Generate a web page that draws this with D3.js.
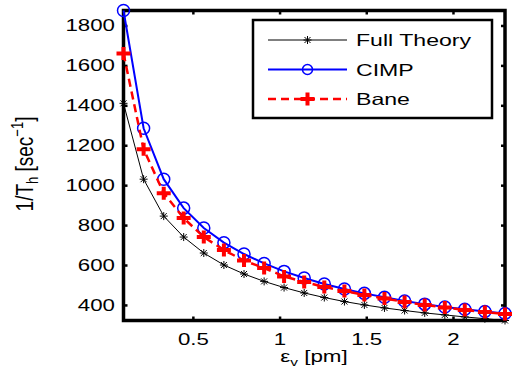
<!DOCTYPE html>
<html>
<head>
<meta charset="utf-8">
<script src="https://cdn.jsdelivr.net/npm/d3@7"></script>
<style>
    body { margin: 0; background: #fff; }
    text { font-family: "Liberation Sans", Arial, sans-serif; fill: #000; }
</style>
</head>
<body>
<div id="chart"></div>
<script>
// emittance values along x (pm)
var epsV = [0.100, 0.216, 0.332, 0.447, 0.563, 0.679, 0.795, 0.911, 1.026, 1.142,
            1.258, 1.374, 1.489, 1.605, 1.721, 1.837, 1.953, 2.068, 2.184, 2.300];

var fullTheory = [1410, 1030, 845, 740, 660, 600, 555, 518, 487, 460,
                  437, 417, 400, 385, 372, 360, 350, 340, 331, 322];
var cimp = [1875, 1285, 1030, 885, 785, 712, 655, 608, 568, 535,
            505, 480, 458, 438, 420, 404, 390, 378, 367, 357];
var bane = [1660, 1180, 960, 835, 740, 675, 622, 585, 543, 515,
            490, 470, 450, 432, 415, 400, 387, 375, 364, 354];

var xTicks = [0.5, 1, 1.5, 2];
var xTickLabels = ["0.5", "1", "1.5", "2"];
var yTicks = [400, 600, 800, 1000, 1200, 1400, 1600, 1800];
var legendNames = ["Full Theory", "CIMP", "Bane"];

var width = 512, height = 380;
var axLeft = 123.5, axRight = 505, axTop = 10.5, axBottom = 320.5;
var stretchX = 1.35;

var svg = d3.select("#chart").append("svg")
    .attr("width", width)
    .attr("height", height);

var x = d3.scaleLinear().domain([0.1, 2.3]).range([axLeft, axRight]);
var y = d3.scaleLinear().domain([322, 1875]).range([axBottom, axTop]);

// axes, ticks point inward like matlab
var gx = svg.append("g")
    .attr("transform", "translate(0," + axBottom + ")")
    .call(d3.axisBottom(x).tickValues(xTicks).tickSizeInner(-4).tickSizeOuter(0)
        .tickFormat(function(d, i) { return xTickLabels[i]; }));
gx.selectAll("text")
    .attr("y", 0).attr("dy", 0)
    .attr("transform", "translate(0,24.5) scale(" + stretchX + ",1)");

var gy = svg.append("g")
    .attr("transform", "translate(" + axLeft + ",0)")
    .call(d3.axisLeft(y).tickValues(yTicks).tickSizeInner(-4).tickSizeOuter(0)
        .tickFormat(d3.format("d")));
gy.selectAll("text")
    .attr("x", 0)
    .attr("transform", "translate(-8.5,0) scale(" + stretchX + ",1)");

svg.append("g")
    .attr("transform", "translate(0," + axTop + ")")
    .call(d3.axisTop(x).tickValues(xTicks).tickSizeInner(-4).tickSizeOuter(0).tickFormat(""));
svg.append("g")
    .attr("transform", "translate(" + axRight + ",0)")
    .call(d3.axisRight(y).tickValues(yTicks).tickSizeInner(-4).tickSizeOuter(0).tickFormat(""));

svg.selectAll(".domain").remove();
svg.selectAll(".tick line").attr("stroke", "#000").attr("stroke-width", 2.5);
svg.selectAll(".tick text").style("font-size", "16.5px").style("font-family", "Liberation Sans, Arial, sans-serif");

svg.append("rect")
    .attr("x", axLeft).attr("y", axTop)
    .attr("width", axRight - axLeft).attr("height", axBottom - axTop)
    .attr("fill", "none").attr("stroke", "#000").attr("stroke-width", 3.5);

// curves
var line = d3.line()
    .x(function(d, i) { return x(epsV[i]); })
    .y(function(d) { return y(d); });

var star = "M-4,0H4M0,-4V4M-3,-3L3,3M-3,3L3,-3";
var plus = "M-7,0H7M0,-6.5V6.5";

svg.append("path").datum(fullTheory)
    .attr("d", line).attr("fill", "none").attr("stroke", "#000").attr("stroke-width", 1);
svg.append("g").selectAll("path").data(fullTheory).enter().append("path")
    .attr("transform", function(d, i) { return "translate(" + x(epsV[i]) + "," + y(d) + ")"; })
    .attr("d", star).attr("stroke", "#000").attr("stroke-width", 1).attr("fill", "none");

svg.append("path").datum(cimp)
    .attr("d", line).attr("fill", "none").attr("stroke", "#0000ff").attr("stroke-width", 2);
svg.append("g").selectAll("circle").data(cimp).enter().append("circle")
    .attr("cx", function(d, i) { return x(epsV[i]); })
    .attr("cy", function(d) { return y(d); })
    .attr("r", 6)
    .attr("fill", "none").attr("stroke", "#0000ff").attr("stroke-width", 1.5);

svg.append("path").datum(bane)
    .attr("d", line).attr("fill", "none").attr("stroke", "#ff0000")
    .attr("stroke-width", 2.5).attr("stroke-dasharray", "8,5");
svg.append("g").selectAll("path").data(bane).enter().append("path")
    .attr("transform", function(d, i) { return "translate(" + x(epsV[i]) + "," + y(d) + ")"; })
    .attr("d", plus).attr("stroke", "#ff0000").attr("stroke-width", 4).attr("fill", "none");

// legend
var legend = svg.append("g");
legend.append("rect")
    .attr("x", 253).attr("y", 20).attr("width", 239).attr("height", 98)
    .attr("fill", "#fff").attr("stroke", "#000").attr("stroke-width", 2.5);

var rows = [
    { color: "#000", width: 1, dash: null, marker: "star" },
    { color: "#0000ff", width: 2, dash: null, marker: "circle" },
    { color: "#ff0000", width: 2.5, dash: "8,5", marker: "plus" }
];
rows.forEach(function(r, i) {
    var ly = 40 + i * 29.5;
    legend.append("line")
        .attr("x1", 268).attr("x2", 347).attr("y1", ly).attr("y2", ly)
        .attr("stroke", r.color).attr("stroke-width", r.width)
        .attr("stroke-dasharray", r.dash);
    if (r.marker == "circle") {
        legend.append("circle").attr("cx", 307.5).attr("cy", ly).attr("r", 5)
            .attr("fill", "none").attr("stroke", r.color).attr("stroke-width", 1.5);
    } else {
        legend.append("path")
            .attr("transform", "translate(307.5," + ly + ")")
            .attr("d", r.marker == "star" ? star : plus)
            .attr("stroke", r.color).attr("stroke-width", r.marker == "star" ? 1 : 4)
            .attr("fill", "none");
    }
    legend.append("text")
        .attr("transform", "translate(356," + (ly + 6) + ") scale(1.4,1)")
        .style("font-size", "16.5px")
        .text(legendNames[i]);
});

// axis labels
var xl = svg.append("text")
    .attr("transform", "translate(314,362) scale(1.4,1)")
    .attr("text-anchor", "middle")
    .style("font-size", "16px");
xl.append("tspan").text("ε");
xl.append("tspan").attr("dy", 4).style("font-size", "11px").text("v");
xl.append("tspan").attr("dy", -4).text(" [pm]");

var yl = svg.append("text")
    .attr("transform", "translate(33,164) rotate(-90) scale(1,1.3)")
    .attr("text-anchor", "middle")
    .style("font-size", "19px");
yl.append("tspan").text("1/T");
yl.append("tspan").attr("dy", 4).style("font-size", "13px").text("h");
yl.append("tspan").attr("dy", -4).text(" [sec");
yl.append("tspan").attr("dy", -8).style("font-size", "13px").text("−1");
yl.append("tspan").attr("dy", 8).text("]");
</script>
</body>
</html>
